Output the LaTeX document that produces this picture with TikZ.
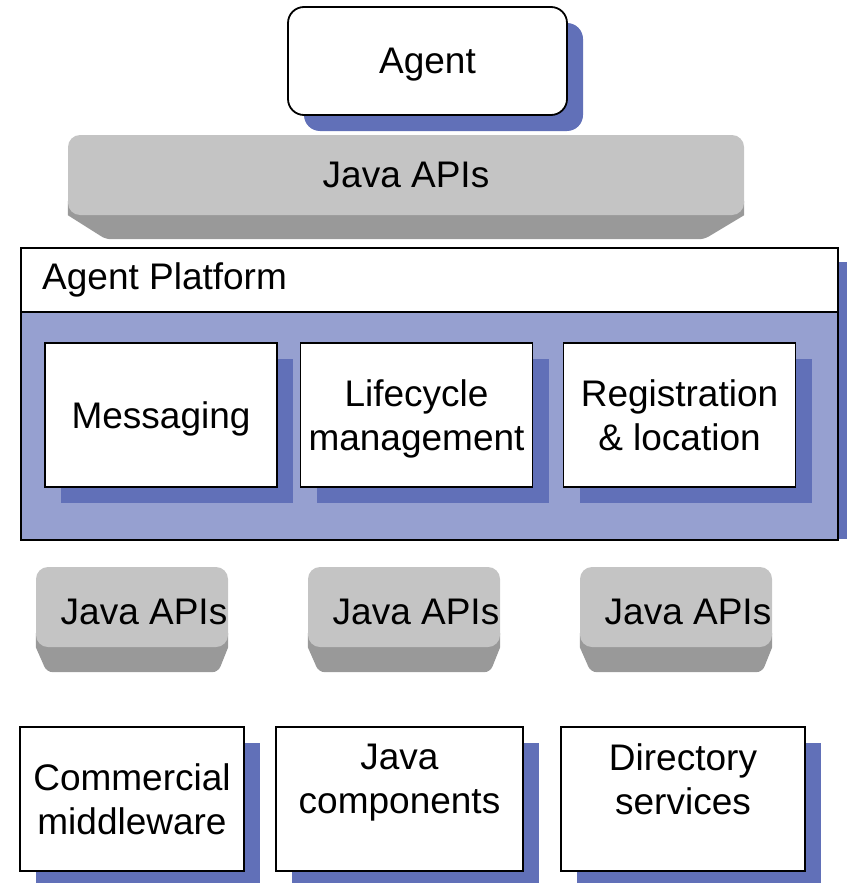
\documentclass[tikz,border=0pt]{standalone}
\usepackage{fontspec}
\setmainfont{Liberation Sans}
\usetikzlibrary{shadows,backgrounds}
\definecolor{shadowblue}{RGB}{97,112,184}
\definecolor{platblue}{RGB}{150,160,208}
\definecolor{apigray}{RGB}{196,196,196}
\definecolor{apidark}{RGB}{153,153,153}

\begin{document}
\begin{tikzpicture}[x=1pt,y=-1pt,
  every node/.style={font=\fontsize{37}{44}\selectfont, inner sep=0pt, align=center, text depth=0pt},
  block/.style={draw=black, line width=1.8pt, fill=white,
    general shadow={fill=shadowblue, shadow xshift=16pt, shadow yshift=-16pt}},
  slabtop/.style={fill=apigray, rounded corners=12pt},
  slabside/.style={fill=apidark}]
\useasboundingbox (0,0) rectangle (847,883);

% agent
\node [block, rounded corners=16pt, minimum width=279, minimum height=108] (agent) at (427.5,61) {Agent};

% upper api layer
\node [slabtop, minimum width=676, minimum height=80] (japi) at (406,175) {};
\begin{scope}[on background layer]
\fill [slabside] ([yshift=14pt]japi.south west) -- (japi.south west)
  [rounded corners=5pt] -- ([xshift=38pt,yshift=-24pt]japi.south west)
  -- ([xshift=-40pt,yshift=-24pt]japi.south east) [sharp corners] -- (japi.south east)
  -- ([yshift=14pt]japi.south east) -- cycle;
\end{scope}
\node (japitext) at (japi.center) {Java APIs};

% platform
\fill [shadowblue] (837,262) rectangle (847,539);
\node [draw=black, line width=1.8pt, fill=platblue, minimum width=817, minimum height=292, anchor=north west] (platform) at (20,247) {};
\node [draw=black, line width=1.8pt, fill=white, minimum width=817, minimum height=64, anchor=north west] (header) at (20,247) {};
\node [anchor=west] (aptitle) at ([xshift=22pt,yshift=4pt]header.west) {Agent Platform};

\node [block, minimum width=232, minimum height=144] (msg) at (161,415) {Messaging};
\node [block, minimum width=232, minimum height=144] (life) at (416.5,415) {Lifecycle\\management};
\node [block, minimum width=232, minimum height=144] (reg) at (679.5,415) {Registration\\\& location};

% lower api layer
\foreach \x/\n in {132/1, 404/2, 676/3}{
  \node [slabtop, minimum width=192, minimum height=80] (api\n) at (\x,607) {};
  \begin{scope}[on background layer]
  \fill [slabside] ([yshift=14pt]api\n.south west) -- (api\n.south west)
    [rounded corners=6pt] -- ([xshift=11pt,yshift=-25pt]api\n.south west)
    -- ([xshift=-10pt,yshift=-25pt]api\n.south east) [sharp corners] -- (api\n.south east)
    -- ([yshift=14pt]api\n.south east) -- cycle;
  \end{scope}
  \node (apitext\n) at ([xshift=12pt,yshift=-5pt]api\n.center) {Java APIs};
}

% services
\node [block, minimum width=224, minimum height=144] (mware) at (132,799) {Commercial\\middleware};
\node [block, minimum width=247, minimum height=144] (comp) at (399.5,799) {};
\node (comptext) at ([yshift=20pt]comp.center) {Java\\components};
\node [block, minimum width=244, minimum height=144] (dir) at (683,799) {};
\node (dirtext) at ([yshift=20pt]dir.center) {Directory\\services};

\end{tikzpicture}
\end{document}
